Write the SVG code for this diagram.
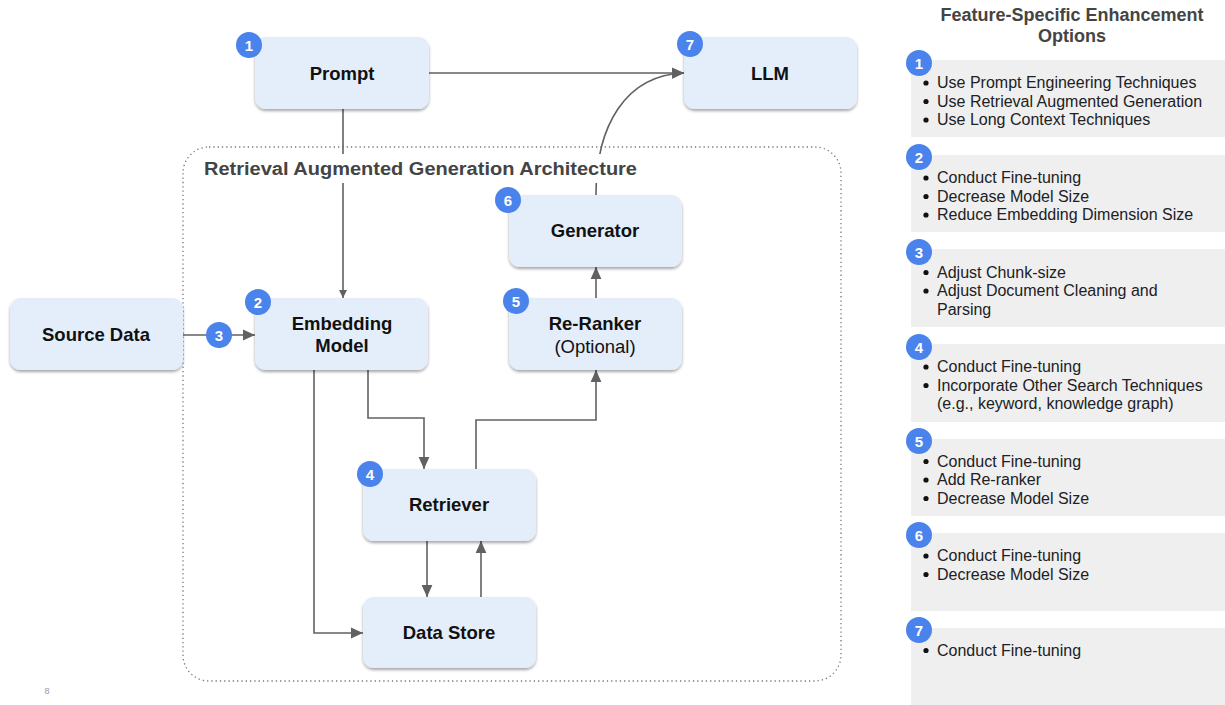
<svg xmlns="http://www.w3.org/2000/svg" width="1225" height="705" viewBox="0 0 1225 705">
<defs>
<style>
.node rect.box{fill:#e4eefa;filter:url(#sh)}
.lbl{font-family:"Liberation Sans",Arial,sans-serif;font-weight:bold;font-size:18.5px;fill:#111;text-anchor:middle}
.reg{font-family:"Liberation Sans",Arial,sans-serif;font-size:18.5px;fill:#111;text-anchor:middle}
.badge circle{fill:#4a83ec}
.badge text{font-family:"Liberation Sans",Arial,sans-serif;font-weight:bold;font-size:15px;fill:#fff;text-anchor:middle}
.conn path{fill:none;stroke:#616161;stroke-width:1.6}
.panel rect{fill:#efefef}
.item{font-family:"Liberation Sans",Arial,sans-serif;font-size:16px;fill:#202124}
.dot{fill:#111}
.ttl{font-family:"Liberation Sans",Arial,sans-serif;font-weight:bold;font-size:18px;fill:#444}
</style>
<filter id="sh" x="-10%" y="-10%" width="120%" height="130%">
<feDropShadow dx="0" dy="2" stdDeviation="1.6" flood-color="#000" flood-opacity="0.35"/>
</filter>
<marker id="ah" viewBox="0 0 10 10" refX="10" refY="5" markerWidth="8" markerHeight="8" markerUnits="userSpaceOnUse" orient="auto">
<path d="M0,0 L10,5 L0,10 z" fill="#616161"/>
</marker>
<marker id="ahb" viewBox="0 0 10 10" refX="10" refY="5" markerWidth="12" markerHeight="12" markerUnits="userSpaceOnUse" orient="auto">
<path d="M0,0.5 L10,5 L0,9.5 z" fill="#616161"/>
</marker>
</defs>
<rect width="1225" height="705" fill="#fff"/>

<!-- container -->
<g id="rag-container">
<rect x="183" y="147" width="658" height="534" rx="26" fill="none" stroke="#777" stroke-width="1.3" stroke-dasharray="1.3 3"/>
</g>

<!-- connectors -->
<g id="connectors" class="conn">
<path d="M429,73 L684,73" marker-end="url(#ahb)"/>
<path d="M596,195 C596,125 626,75 684,73" marker-end="url(#ahb)"/>
<path d="M343,109 L343,298" marker-end="url(#ah)"/>
<path d="M183,335 L255,335" marker-end="url(#ahb)"/>
<path d="M368,370 L368,418 L424,418 L424,469" marker-end="url(#ahb)"/>
<path d="M314,370 L314,633 L363,633" marker-end="url(#ahb)"/>
<path d="M427,541 L427,597" marker-end="url(#ahb)"/>
<path d="M481,597 L481,541" marker-end="url(#ahb)"/>
<path d="M476,469 L476,420 L596,420 L596,370" marker-end="url(#ahb)"/>
<path d="M596,298 L596,267" marker-end="url(#ahb)"/>
</g>

<!-- container title -->
<g id="rag-title">
<rect x="198" y="154" width="446" height="29" fill="#fff"/>
<text class="ttl" x="204" y="175" textLength="433" lengthAdjust="spacingAndGlyphs">Retrieval Augmented Generation Architecture</text>
</g>

<g id="prompt" class="node">
<rect class="box" x="255" y="37" width="174" height="72" rx="11"/>
<text class="lbl" x="342" y="80">Prompt</text>
<g class="badge"><circle cx="249" cy="45" r="13"/><text x="249" y="50.5">1</text></g>
</g>

<g id="llm" class="node">
<rect class="box" x="684" y="37" width="173" height="72" rx="11"/>
<text class="lbl" x="770" y="80">LLM</text>
<g class="badge"><circle cx="690" cy="44" r="13"/><text x="690" y="49.5">7</text></g>
</g>

<g id="source-data" class="node">
<rect class="box" x="10" y="298" width="173" height="72" rx="11"/>
<text class="lbl" x="96" y="341">Source Data</text>
</g>

<g id="embedding-model" class="node">
<rect class="box" x="255" y="298" width="173" height="72" rx="11"/>
<text class="lbl" x="342" y="330">Embedding</text>
<text class="lbl" x="342" y="352">Model</text>
<g class="badge"><circle cx="258" cy="302" r="13"/><text x="258" y="307.5">2</text></g>
</g>

<g id="badge3" class="badge"><circle cx="219" cy="335" r="13"/><text x="219" y="340.5">3</text></g>

<g id="re-ranker" class="node">
<rect class="box" x="509" y="298" width="173" height="72" rx="11"/>
<text class="lbl" x="595" y="330">Re-Ranker</text>
<text class="reg" x="595" y="353">(Optional)</text>
<g class="badge"><circle cx="516" cy="301" r="13"/><text x="516" y="306.5">5</text></g>
</g>

<g id="generator" class="node">
<rect class="box" x="509" y="195" width="173" height="72" rx="11"/>
<text class="lbl" x="595" y="237">Generator</text>
<g class="badge"><circle cx="508" cy="200" r="13"/><text x="508" y="205.5">6</text></g>
</g>

<g id="retriever" class="node">
<rect class="box" x="363" y="469" width="173" height="72" rx="11"/>
<text class="lbl" x="449" y="511">Retriever</text>
<g class="badge"><circle cx="370" cy="474" r="13"/><text x="370" y="479.5">4</text></g>
</g>

<g id="data-store" class="node">
<rect class="box" x="363" y="597" width="173" height="71" rx="11"/>
<text class="lbl" x="449" y="639">Data Store</text>
</g>

<text x="47" y="694" font-family="Liberation Sans,Arial,sans-serif" font-size="9" fill="#999" text-anchor="middle">8</text>

<!-- right panel -->
<g id="options-title">
<text class="ttl" x="1072" y="21" text-anchor="middle" font-size="17">Feature-Specific Enhancement</text>
<text class="ttl" x="1072" y="42" text-anchor="middle" font-size="17">Options</text>
</g>

<g id="opt1" class="panel">
<rect x="911" y="60" width="314" height="77"/>
<g class="badge"><circle cx="919" cy="63" r="13"/><text x="919" y="68.5">1</text></g>
<circle class="dot" cx="926" cy="83" r="2.6"/><text class="item" x="937" y="88">Use Prompt Engineering Techniques</text>
<circle class="dot" cx="926" cy="101.5" r="2.6"/><text class="item" x="937" y="106.5">Use Retrieval Augmented Generation</text>
<circle class="dot" cx="926" cy="120" r="2.6"/><text class="item" x="937" y="125">Use Long Context Techniques</text>
</g>

<g id="opt2" class="panel">
<rect x="911" y="155" width="314" height="77"/>
<g class="badge"><circle cx="919" cy="157" r="13"/><text x="919" y="162.5">2</text></g>
<circle class="dot" cx="926" cy="178" r="2.6"/><text class="item" x="937" y="183">Conduct Fine-tuning</text>
<circle class="dot" cx="926" cy="196.5" r="2.6"/><text class="item" x="937" y="201.5">Decrease Model Size</text>
<circle class="dot" cx="926" cy="215" r="2.6"/><text class="item" x="937" y="220">Reduce Embedding Dimension Size</text>
</g>

<g id="opt3" class="panel">
<rect x="911" y="249" width="314" height="78"/>
<g class="badge"><circle cx="919" cy="252" r="13"/><text x="919" y="257.5">3</text></g>
<circle class="dot" cx="926" cy="272.5" r="2.6"/><text class="item" x="937" y="277.5">Adjust Chunk-size</text>
<circle class="dot" cx="926" cy="291" r="2.6"/><text class="item" x="937" y="296">Adjust Document Cleaning and</text>
<text class="item" x="937" y="314.5">Parsing</text>
</g>

<g id="opt4" class="panel">
<rect x="911" y="344" width="314" height="78"/>
<g class="badge"><circle cx="919" cy="347" r="13"/><text x="919" y="352.5">4</text></g>
<circle class="dot" cx="926" cy="367" r="2.6"/><text class="item" x="937" y="372">Conduct Fine-tuning</text>
<circle class="dot" cx="926" cy="385.5" r="2.6"/><text class="item" x="937" y="390.5">Incorporate Other Search Techniques</text>
<text class="item" x="937" y="409">(e.g., keyword, knowledge graph)</text>
</g>

<g id="opt5" class="panel">
<rect x="911" y="439" width="314" height="77"/>
<g class="badge"><circle cx="919" cy="441" r="13"/><text x="919" y="446.5">5</text></g>
<circle class="dot" cx="926" cy="461.5" r="2.6"/><text class="item" x="937" y="466.5">Conduct Fine-tuning</text>
<circle class="dot" cx="926" cy="480" r="2.6"/><text class="item" x="937" y="485">Add Re-ranker</text>
<circle class="dot" cx="926" cy="498.5" r="2.6"/><text class="item" x="937" y="503.5">Decrease Model Size</text>
</g>

<g id="opt6" class="panel">
<rect x="911" y="533" width="314" height="78"/>
<g class="badge"><circle cx="919" cy="535" r="13"/><text x="919" y="540.5">6</text></g>
<circle class="dot" cx="926" cy="556" r="2.6"/><text class="item" x="937" y="561">Conduct Fine-tuning</text>
<circle class="dot" cx="926" cy="574.5" r="2.6"/><text class="item" x="937" y="579.5">Decrease Model Size</text>
</g>

<g id="opt7" class="panel">
<rect x="911" y="628" width="314" height="77"/>
<g class="badge"><circle cx="919" cy="630" r="13"/><text x="919" y="635.5">7</text></g>
<circle class="dot" cx="926" cy="650.5" r="2.6"/><text class="item" x="937" y="655.5">Conduct Fine-tuning</text>
</g>
</svg>
